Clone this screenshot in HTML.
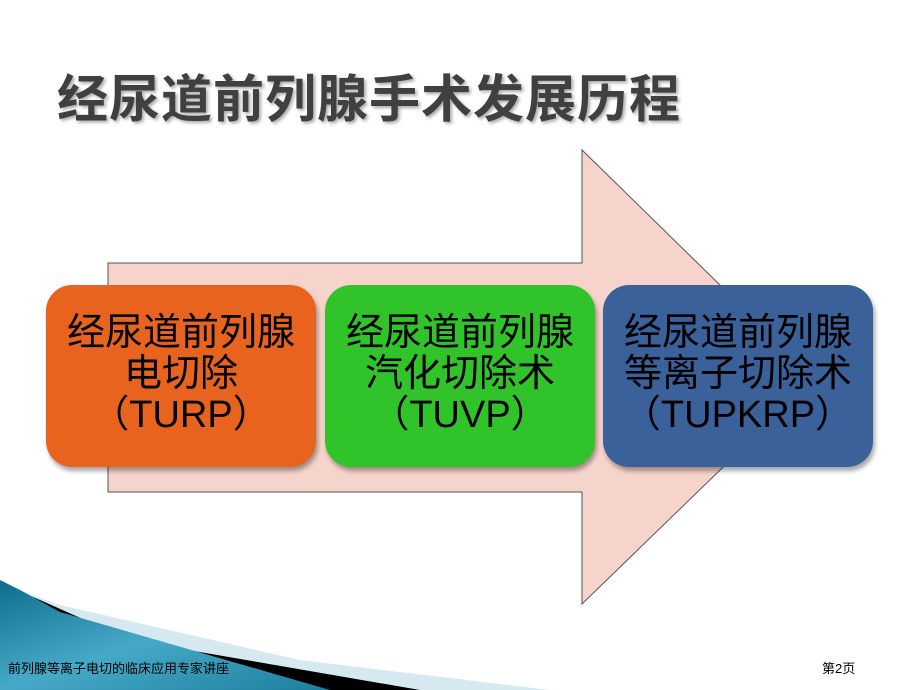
<!DOCTYPE html>
<html><head><meta charset="utf-8"><style>
body{margin:0;width:920px;height:690px;overflow:hidden;background:#fff;position:relative;font-family:"Liberation Sans","Noto Sans CJK SC",sans-serif}
.t{position:absolute;left:57px;top:58px;font-size:51px;font-weight:bold;color:#404040;text-shadow:2px 2px 3px #aaa;letter-spacing:1px;white-space:nowrap}
.b{position:absolute;top:285px;width:270px;height:182px;border-radius:26px;box-shadow:2px 4px 5px rgba(0,0,0,.35);text-align:center;font-size:38px;line-height:41px;color:#000;box-sizing:border-box;padding-top:28px;white-space:nowrap}
.f{position:absolute;font-size:13px;color:#000;top:658px}
</style></head><body>
<svg width="920" height="690" style="position:absolute;left:0;top:0">
<polygon points="108,263 582,263 582,150 815,378 582,604 582,492 108,492" fill="#f7d4cb" stroke="#555" stroke-width="1"/>
<polygon points="0,583 0,690 550,690 300,660 60,605" fill="#d6e9f1"/>
<polygon points="0,583 0,690 420,690 130,640 40,600" fill="#000"/>
<defs><linearGradient id="g" x1="0" y1="0" x2="1" y2="1"><stop offset="0" stop-color="#0e6d8c"/><stop offset=".5" stop-color="#47a9c8"/><stop offset="1" stop-color="#1b7f9e"/></linearGradient></defs>
<polygon points="0,580 0,690 330,690 60,612 20,590" fill="url(#g)"/>
</svg>
<div class="t">经尿道前列腺手术发展历程</div>
<div class="b" style="left:46px;background:#e8641e">经尿道前列腺<br>电切除<br>（TURP）</div>
<div class="b" style="left:325px;background:#31c42a">经尿道前列腺<br>汽化切除术<br>（TUVP）</div>
<div class="b" style="left:603px;background:#3a619a">经尿道前列腺<br>等离子切除术<br>（TUPKRP）</div>
<div class="f" style="left:8px">前列腺等离子电切的临床应用专家讲座</div>
<div class="f" style="left:822px">第2页</div>
</body></html>
